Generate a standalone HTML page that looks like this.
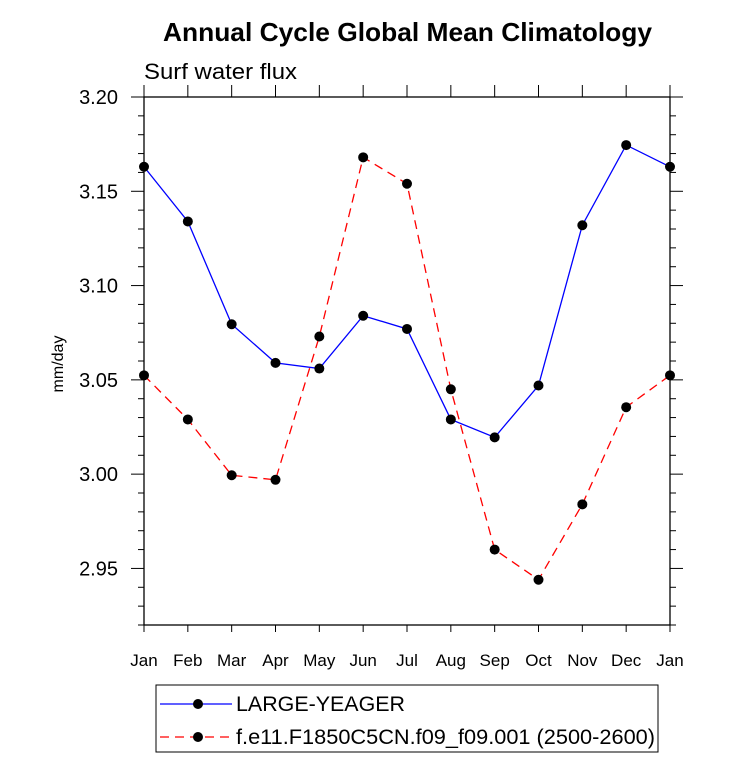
<!DOCTYPE html>
<html><head><meta charset="utf-8"><style>
body{margin:0;background:#fff;}
svg text{font-family:"Liberation Sans",sans-serif;}
</style></head><body>
<svg id="chart" width="733" height="761" xmlns="http://www.w3.org/2000/svg">
<text x="163" y="41" font-size="26" font-weight="bold" textLength="489" lengthAdjust="spacingAndGlyphs">Annual Cycle Global Mean Climatology</text>
<text x="144" y="79" font-size="22" textLength="153" lengthAdjust="spacingAndGlyphs">Surf water flux</text>
<text transform="translate(63,364) rotate(-90)" text-anchor="middle" font-size="16">mm/day</text>
<g id="axes"></g>
<g id="series"></g>
<rect x="156" y="685" width="502" height="67" fill="none" stroke="#000" stroke-width="1"/>
<line x1="160" y1="704" x2="232" y2="704" stroke="#00f" stroke-width="1.3"/>
<circle cx="198" cy="704" r="5" fill="#000"/>
<text x="236" y="711" font-size="21" textLength="169" lengthAdjust="spacingAndGlyphs">LARGE-YEAGER</text>
<line x1="160" y1="737" x2="232" y2="737" stroke="#f00" stroke-width="1.3" stroke-dasharray="9,6"/>
<circle cx="198" cy="737" r="5" fill="#000"/>
<text x="236" y="744" font-size="21" textLength="419" lengthAdjust="spacingAndGlyphs">f.e11.F1850C5CN.f09_f09.001 (2500-2600)</text>
</svg>
<script>
const months=["Jan","Feb","Mar","Apr","May","Jun","Jul","Aug","Sep","Oct","Nov","Dec","Jan"];
const yTicks=[2.95,3.00,3.05,3.10,3.15,3.20];
const yTickLabels=["2.95","3.00","3.05","3.10","3.15","3.20"];
const largeYeager=[3.163,3.134,3.0795,3.059,3.056,3.084,3.077,3.029,3.0195,3.047,3.132,3.1745,3.163];
const fe11=[3.0524,3.029,2.9994,2.997,3.073,3.168,3.154,3.045,2.960,2.944,2.984,3.0355,3.0524];
const NS="http://www.w3.org/2000/svg";
const L=144,R=670,T=97,B=625,yMin=2.92,yMax=3.20;
const xs=i=>L+(R-L)*i/(months.length-1);
const ys=v=>B-(v-yMin)/(yMax-yMin)*(B-T);
function mk(tag,attrs,parent){const e=document.createElementNS(NS,tag);for(const k in attrs)e.setAttribute(k,attrs[k]);parent.appendChild(e);return e;}
const ax=document.getElementById('axes');
const frame=mk('rect',{x:L,y:T,width:R-L,height:B-T,fill:'none',stroke:'#000','stroke-width':1.3},ax);


months.forEach((m,i)=>{const x=xs(i);
 mk('line',{x1:x,y1:B,x2:x,y2:B+7,stroke:'#000','stroke-width':1},ax);
 mk('line',{x1:x,y1:T,x2:x,y2:T-12,stroke:'#000','stroke-width':1},ax);
 const t=mk('text',{x:x,y:B+41,'text-anchor':'middle','font-size':17},ax);t.textContent=m;
 
 
});
for(let k=0;k<=28;k++){const v=yMin+k*0.01;const y=ys(v);const major=(k%5===3);
 const len=major?13:6;
 mk('line',{x1:L-len,y1:y,x2:L,y2:y,stroke:'#000','stroke-width':1},ax);
 mk('line',{x1:R,y1:y,x2:R+len,y2:y,stroke:'#000','stroke-width':1},ax);
}
yTicks.forEach((v,i)=>{const t=mk('text',{x:L-26,y:ys(v)+7,'text-anchor':'end','font-size':20},ax);t.textContent=yTickLabels[i];
 
 
});
const sg=document.getElementById('series');
function series(data,color,dash,name){
 const pts=data.map((v,i)=>xs(i)+','+ys(v)).join(' ');
 const pl=mk('polyline',{points:pts,fill:'none',stroke:color,'stroke-width':1.3},sg);
 if(dash)pl.setAttribute('stroke-dasharray',dash);
 
 
 data.forEach((v,i)=>{const c=mk('circle',{cx:xs(i),cy:ys(v),r:5,fill:'#000'},sg);
  
  });
}
series(largeYeager,'#00f',null,'large-yeager');
series(fe11,'#f00','9,6','f-e11');
</script>
</body></html>
